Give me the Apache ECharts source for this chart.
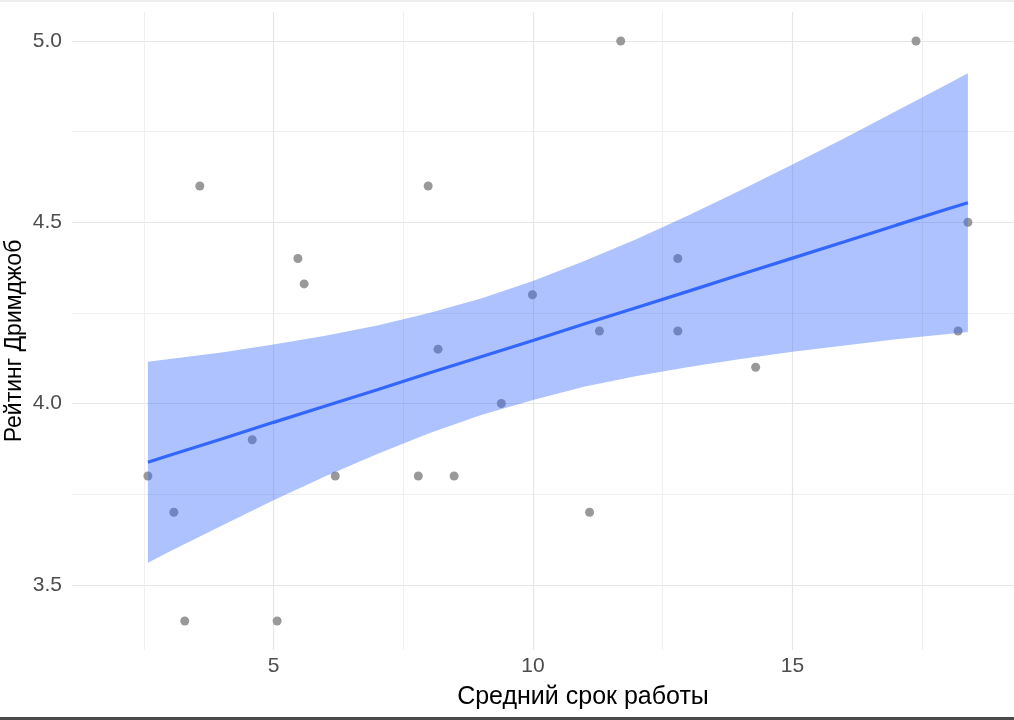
<!DOCTYPE html>
<html>
<head>
<meta charset="utf-8">
<script src="https://cdn.jsdelivr.net/npm/echarts@6/dist/echarts.min.js"></script>
<style>
html,body{margin:0;padding:0;background:#fff;}
#chart{width:1014px;height:720px;}
</style>
</head>
<body>
<div id="chart"></div>
<script>
// Scatter data: average tenure (x) vs Dreamjob rating (y)
var tenure = [2.58, 3.08, 3.29, 3.58, 4.59, 5.07, 5.47, 5.59, 6.19, 7.79, 7.98, 8.17, 8.48, 9.39, 9.99, 11.09, 11.28, 11.69, 12.79, 12.79, 14.29, 17.38, 18.19, 18.38];
var rating = [3.80, 3.70, 3.40, 4.60, 3.90, 3.40, 4.40, 4.33, 3.80, 3.80, 4.60, 4.15, 3.80, 4.00, 4.30, 3.70, 4.20, 5.00, 4.40, 4.20, 4.10, 5.00, 4.20, 4.50];

// Linear smooth with confidence band
var smoothX     = [2.58, 3, 4, 5, 6, 7, 8, 9, 10, 11, 12, 13, 14, 15, 16, 17, 18, 18.38];
var smoothFit   = [3.838, 3.857, 3.902, 3.948, 3.993, 4.038, 4.084, 4.129, 4.174, 4.220, 4.265, 4.310, 4.356, 4.401, 4.446, 4.492, 4.537, 4.554];
var smoothLower = [3.561, 3.592, 3.663, 3.733, 3.799, 3.861, 3.918, 3.968, 4.010, 4.047, 4.076, 4.101, 4.123, 4.143, 4.160, 4.177, 4.192, 4.197];
var smoothUpper = [4.115, 4.123, 4.141, 4.163, 4.187, 4.215, 4.250, 4.290, 4.338, 4.394, 4.454, 4.519, 4.588, 4.659, 4.732, 4.807, 4.882, 4.911];

// Tick values
var xMajorTicks = [5, 10, 15];
var xMinorTicks = [2.5, 7.5, 12.5, 17.5];
var yMajorTicks = [3.5, 4.0, 4.5, 5.0];
var yMinorTicks = [3.75, 4.25, 4.75];

var xTitle = 'Средний срок работы';
var yTitle = 'Рейтинг Дримджоб';

var X_MIN = 1.1175, X_MAX = 19.268, Y_MIN = 3.32, Y_MAX = 5.08;
var FONT = '"Liberation Sans", Arial, sans-serif';

var points = tenure.map(function (x, i) { return [x, rating[i]]; });
var fitLine = smoothX.map(function (x, i) { return [x, smoothFit[i]]; });

var chart = echarts.init(document.getElementById('chart'), null, {renderer: 'canvas'});

function hiddenAxisBase() {
  return {
    axisLine: {show: false},
    axisTick: {show: false},
    axisLabel: {show: false}
  };
}

var option = {
  animation: false,
  backgroundColor: '#ffffff',
  grid: {left: 72, right: 0, top: 12, bottom: 70, containLabel: false, outerBoundsMode: 'none'},
  xAxis: [
    {
      type: 'value', min: X_MIN, max: X_MAX,
      axisLine: {show: false},
      axisTick: {show: false, customValues: xMajorTicks},
      axisLabel: {customValues: xMajorTicks, color: '#4D4D4D', fontSize: 21, fontFamily: FONT, margin: 6,
        formatter: function (v) { return String(Math.round(v * 10) / 10); }},
      splitLine: {show: true, lineStyle: {color: '#E6E6E6', width: 1.2}},
      name: xTitle, nameLocation: 'middle', nameGap: 35, nameMoveOverlap: false,
      nameTextStyle: {color: '#000', fontSize: 25, fontFamily: FONT, padding: [0, 0, 0, 80]}
    },
    Object.assign(hiddenAxisBase(), {
      type: 'value', min: X_MIN, max: X_MAX,
      axisTick: {show: false, customValues: xMinorTicks},
      splitLine: {show: true, lineStyle: {color: '#EFEFEF', width: 1}}
    })
  ],
  yAxis: [
    {
      type: 'value', min: Y_MIN, max: Y_MAX,
      axisLine: {show: false},
      axisTick: {show: false, customValues: yMajorTicks},
      axisLabel: {customValues: yMajorTicks, color: '#4D4D4D', fontSize: 21, fontFamily: FONT, margin: 10,
        formatter: function (v) { return v.toFixed(1); }},
      splitLine: {show: true, lineStyle: {color: '#E6E6E6', width: 1.2}},
      name: yTitle, nameLocation: 'middle', nameGap: 46, nameRotate: 90, nameMoveOverlap: false,
      nameTextStyle: {color: '#000', fontSize: 23, fontFamily: FONT, padding: [0, 20, 0, 0]}
    },
    Object.assign(hiddenAxisBase(), {
      type: 'value', min: Y_MIN, max: Y_MAX,
      axisTick: {show: false, customValues: yMinorTicks},
      splitLine: {show: true, lineStyle: {color: '#EFEFEF', width: 1}}
    })
  ],
  graphic: [
    {type: 'rect', left: 0, top: 0, shape: {width: 1014, height: 2}, style: {fill: '#EDEDED'}, silent: true},
    {type: 'rect', left: 0, top: 717, shape: {width: 1014, height: 3}, style: {fill: '#4A4A4A'}, silent: true}
  ],
  series: [
    {
      type: 'scatter', xAxisIndex: 0, yAxisIndex: 0,
      data: points, symbol: 'circle', symbolSize: 9,
      itemStyle: {color: '#999999', opacity: 1},
      z: 2, silent: true
    },
    {
      type: 'custom', xAxisIndex: 0, yAxisIndex: 0,
      data: [[smoothX[0], smoothFit[0]]],
      renderItem: function (params, api) {
        var pts = [];
        for (var i = 0; i < smoothX.length; i++) pts.push(api.coord([smoothX[i], smoothUpper[i]]));
        for (var j = smoothX.length - 1; j >= 0; j--) pts.push(api.coord([smoothX[j], smoothLower[j]]));
        return {type: 'polygon', shape: {points: pts}, style: {fill: 'rgba(51,102,255,0.4)'}};
      },
      z: 3, silent: true
    },
    {
      type: 'line', xAxisIndex: 0, yAxisIndex: 0,
      data: fitLine, showSymbol: false, smooth: false,
      lineStyle: {color: '#3366FF', width: 3.2},
      z: 4, silent: true
    }
  ]
};
chart.setOption(option);
</script>
</body>
</html>
